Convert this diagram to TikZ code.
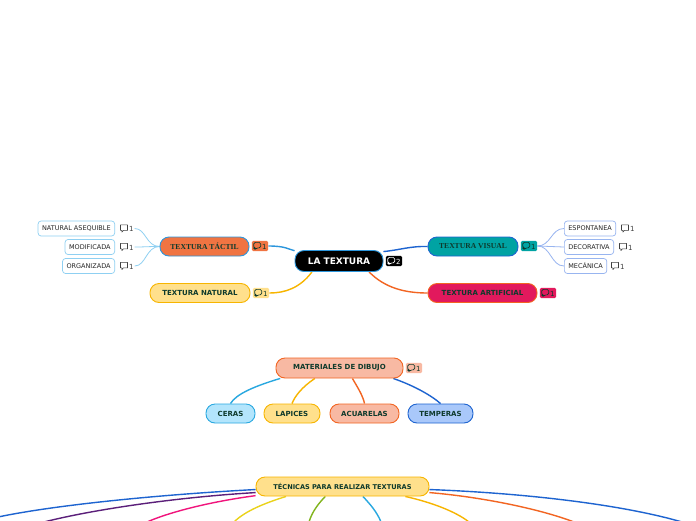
\documentclass[tikz,border=0pt]{standalone}
\usepackage{fontspec}
\setmainfont{DejaVu Sans}
\newfontfamily\serifbf{Liberation Serif}
\usetikzlibrary{backgrounds}
\definecolor{txtgreen}{RGB}{14,58,44}
\definecolor{cblue}{RGB}{44,150,220}
\definecolor{cdblue}{RGB}{30,100,208}
\definecolor{ctac}{RGB}{240,116,66}
\definecolor{cyel}{RGB}{255,224,140}
\definecolor{cyelb}{RGB}{247,181,0}
\definecolor{cteal}{RGB}{0,163,163}
\definecolor{ccrim}{RGB}{226,25,93}
\definecolor{cred}{RGB}{242,101,34}
\definecolor{csalm}{RGB}{248,185,163}
\definecolor{ccyan}{RGB}{179,229,252}
\definecolor{ccyanb}{RGB}{41,168,224}
\definecolor{ctemp}{RGB}{169,200,250}
\definecolor{cleafl}{RGB}{143,208,242}
\definecolor{cleafr}{RGB}{152,181,240}
\definecolor{cpurp}{RGB}{91,31,122}
\definecolor{cpink}{RGB}{240,20,124}
\definecolor{cgold}{RGB}{234,210,26}
\definecolor{cgreen}{RGB}{130,181,30}
\newcommand{\cmticon}{\tikz[x=1pt,y=1pt,baseline=-0.3pt,line width=0.65pt,line join=round]
  \draw (0,1)--(0,6.5)--(7,6.5)--(7,1)--(2.8,1)--(1.3,-0.7)--(1.3,1)--cycle;}

\begin{document}
\begin{tikzpicture}[x=1pt,y=-1pt,font=\fontsize{7}{8}\selectfont\bfseries,text=txtgreen,
  topic/.style={draw,line width=0.9pt,rounded corners=9pt,minimum height=19pt,inner xsep=4pt},
  serifnode/.style={font=\serifbf\fontsize{7.6}{8}\selectfont\bfseries},
  leaf/.style={draw=#1,line width=0.7pt,fill=white,rounded corners=3pt,minimum height=15pt,
    inner xsep=4pt,font=\fontsize{6.5}{7}\selectfont,text=black!85},
  badge/.style={fill=#1,rounded corners=1.5pt,inner xsep=1.6pt,inner ysep=1.2pt,
    font=\fontsize{7}{7}\selectfont},
  lbadge/.style={inner sep=1pt,font=\fontsize{7}{7}\selectfont,text=black!75},
  link/.style={draw=#1,line width=1.4pt}]
  \useasboundingbox (0,0) rectangle (696,520);
  \begin{scope}[on background layer]
    \fill[white] (0,0) rectangle (696,520);
  \end{scope}
  \clip (0,0) rectangle (696,520);

  % central topic and its four branches
  \node[topic,fill=black,draw=cblue,text=white,font=\fontsize{9}{10}\selectfont\bfseries,
    minimum width=88pt,minimum height=21pt] (lt) at (339,261) {LA TEXTURA};
  \node[badge=black,text=white] (ltb) at (394,261) {\cmticon\,2};
  \node[topic,serifnode,fill=ctac,draw=cblue,minimum width=89pt] (tt) at (204.5,246.5) {TEXTURA TÁCTIL};
  \node[badge=ctac] (ttb) at (260,246) {\cmticon\,1};
  \node[topic,fill=cyel,draw=cyelb,minimum width=100pt] (tn) at (200,293) {TEXTURA NATURAL};
  \node[badge=cyel] (tnb) at (261,293) {\cmticon\,1};
  \node[topic,serifnode,fill=cteal,draw=cdblue,minimum width=90pt] (tv) at (473,246.5) {TEXTURA VISUAL};
  \node[badge=cteal] (tvb) at (529,246) {\cmticon\,1};
  \node[topic,fill=ccrim,draw=cred,minimum width=109pt] (ta) at (482.5,293) {TEXTURA ARTIFICIAL};
  \node[badge=ccrim] (tab) at (548,293) {\cmticon\,1};

  % leaves
  \foreach \n/\t/\y in {na/NATURAL ASEQUIBLE/228.5,mo/MODIFICADA/247,og/ORGANIZADA/266} {
    \node[leaf=cleafl,anchor=east] (\n) at (115,\y) {\t};
    \node[lbadge,anchor=west] (\n b) at (119,\y) {\cmticon\,1};
    \begin{scope}[on background layer]
      \draw[link=cleafl,line width=0.8pt] (tt.west) .. controls (146,246.5) and (146,\y) .. (\n b.east);
    \end{scope}
  }
  \foreach \n/\t/\y/\bx in {es/ESPONTANEA/228.5/620,de/DECORATIVA/247/618,me/MECÁNICA/266/610} {
    \node[leaf=cleafr,anchor=west] (\n) at (564,\y) {\t};
    \node[lbadge,anchor=west] (\n b) at (\bx,\y) {\cmticon\,1};
    \begin{scope}[on background layer]
      \draw[link=cleafr,line width=0.8pt] (tvb.east) .. controls (551,246) and (551,\y) .. (\n.west);
    \end{scope}
  }

  % drawing materials
  \node[topic,fill=csalm,draw=cred,minimum width=127pt,minimum height=20pt] (mat) at (339.5,368) {MATERIALES DE DIBUJO};
  \node[badge=csalm] (matb) at (414,368) {\cmticon\,1};
  \node[topic,fill=ccyan,draw=ccyanb,minimum width=49pt] (cer) at (230.5,413.5) {CERAS};
  \node[topic,fill=cyel,draw=cyelb,minimum width=56pt] (lap) at (292,413.5) {LAPICES};
  \node[topic,fill=csalm,draw=cred,minimum width=69pt] (acu) at (364.5,413.5) {ACUARELAS};
  \node[topic,fill=ctemp,draw=cdblue,minimum width=65pt] (tem) at (440.5,413.5) {TEMPERAS};

  % techniques
  \node[topic,fill=cyel,draw=cyelb,font=\fontsize{6.6}{8}\selectfont\bfseries,minimum width=173pt] (tec) at (342.5,486.5) {TÉCNICAS PARA REALIZAR TEXTURAS};
  \coordinate (e1) at (-2,517);
  \coordinate (e2) at (44,522);
  \coordinate (e3) at (147,522);
  \coordinate (e4) at (234,522);
  \coordinate (e5) at (309,522);
  \coordinate (e6) at (381,522);
  \coordinate (e7) at (469,522);
  \coordinate (e8) at (574,522);
  \coordinate (e9) at (682,522);

  \begin{scope}[on background layer]
    \draw[link=cblue] (ttb.east) .. controls (285,246) and (288,249) .. (lt.167);
    \draw[link=cdblue] (lt.12) .. controls (400,250) and (410,246) .. (tv.west);
    \draw[link=cyelb] (lt.-158) .. controls (300,288) and (285,293) .. (tnb.east);
    \draw[link=cred] (lt.-20) .. controls (385,288) and (405,293) .. (ta.west);

    \draw[link=ccyanb] (mat.190) .. controls (255,386) and (236,394) .. (cer.north);
    \draw[link=cyelb] (mat.203) .. controls (302,387) and (295,396) .. (lap.north);
    \draw[link=cred] (mat.-39) .. controls (358,388) and (363,396) .. (acu.north);
    \draw[link=cdblue] (mat.-11) .. controls (415,386) and (432,396) .. (tem.north);

    \draw[link=cdblue] (tec.182) .. controls (170,494) and (60,504) .. (e1);
    \draw[link=cpurp] (tec.184) .. controls (180,497) and (95,509) .. (e2);
    \draw[link=cpink] (tec.186) .. controls (215,501) and (172,511) .. (e3);
    \draw[link=cgold] (tec.190) .. controls (265,503) and (245,511) .. (e4);
    \draw[link=cgreen] (tec.210) .. controls (318,504) and (312,512) .. (e5);
    \draw[link=ccyanb] (tec.-26) .. controls (370,504) and (377,512) .. (e6);
    \draw[link=cyelb] (tec.-9) .. controls (430,502) and (455,511) .. (e7);
    \draw[link=cred] (tec.-4) .. controls (482,497) and (540,509) .. (e8);
    \draw[link=cdblue] (tec.-2) .. controls (522,493) and (620,504) .. (e9);
  \end{scope}
\end{tikzpicture}
\end{document}
